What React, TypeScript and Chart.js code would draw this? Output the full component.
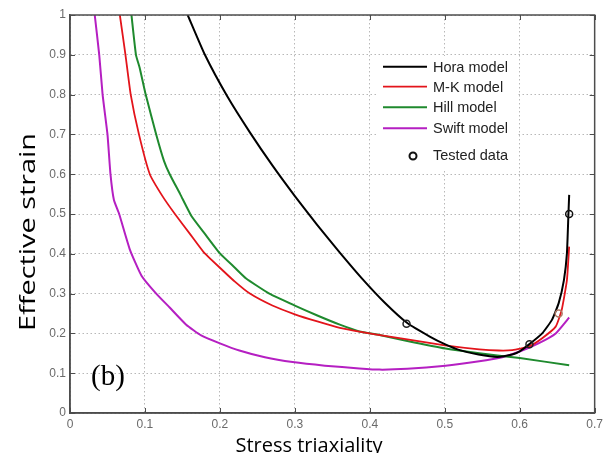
import { useEffect, useRef } from "react";
import { Chart, registerables } from "chart.js";

Chart.register(...registerables);

// Hora model
const horaX = [0.157, 0.18, 0.21, 0.24, 0.27, 0.3, 0.33, 0.36, 0.39, 0.42, 0.45, 0.48, 0.5, 0.52, 0.545, 0.57, 0.59, 0.6, 0.613, 0.63, 0.643, 0.652, 0.659, 0.663, 0.665, 0.666];
const horaY = [1.0, 0.9, 0.795, 0.705, 0.622, 0.545, 0.472, 0.403, 0.337, 0.277, 0.226, 0.192, 0.173, 0.158, 0.147, 0.141, 0.147, 0.155, 0.173, 0.2, 0.234, 0.276, 0.334, 0.401, 0.5, 0.548];

// M-K model
const mkX = [0.0665, 0.074, 0.081, 0.092, 0.1065, 0.124, 0.14, 0.16, 0.178, 0.2, 0.22, 0.24, 0.27, 0.3, 0.33, 0.36, 0.39, 0.42, 0.45, 0.5, 0.546, 0.572, 0.59, 0.612, 0.63, 0.648, 0.656, 0.663, 0.666];
const mkY = [1.0, 0.9, 0.8, 0.7, 0.6, 0.543, 0.5, 0.45, 0.405, 0.365, 0.33, 0.3, 0.27, 0.248, 0.23, 0.214, 0.203, 0.194, 0.185, 0.17, 0.16, 0.157, 0.158, 0.167, 0.188, 0.217, 0.259, 0.334, 0.418];

// Hill model
const hillX = [0.082, 0.088, 0.093, 0.101, 0.115, 0.1255, 0.133, 0.147, 0.162, 0.18, 0.2, 0.22, 0.235, 0.266, 0.3, 0.33, 0.36, 0.386, 0.413, 0.45, 0.501, 0.546, 0.6, 0.666];
const hillY = [1.0, 0.9, 0.867, 0.8, 0.7, 0.633, 0.6, 0.55, 0.495, 0.45, 0.401, 0.365, 0.338, 0.3, 0.27, 0.245, 0.222, 0.205, 0.196, 0.181, 0.162, 0.15, 0.138, 0.12];

// Swift model
const swiftX = [0.033, 0.039, 0.0435, 0.05, 0.054, 0.0586, 0.0656, 0.08, 0.0954, 0.115, 0.133, 0.155, 0.175, 0.2, 0.226, 0.26, 0.297, 0.34, 0.386, 0.413, 0.45, 0.501, 0.546, 0.572, 0.599, 0.625, 0.648, 0.666];
const swiftY = [1.0, 0.9, 0.8, 0.7, 0.6, 0.535, 0.5, 0.41, 0.345, 0.3, 0.265, 0.222, 0.195, 0.175, 0.157, 0.14, 0.128, 0.119, 0.112, 0.109, 0.111, 0.119, 0.13, 0.138, 0.154, 0.175, 0.2, 0.24];

// Tested data
const testedX = [0.449, 0.613, 0.652, 0.666];
const testedY = [0.224, 0.173, 0.25, 0.5];

const seriesNames = ["Hora model", "M-K model", "Hill model", "Swift model", "Tested data"];
const xTitle = "Stress triaxiality";
const yTitle = "Effective strain";
const panelTag = "(b)";

const FRAME = "#4d4d4d";
const TICK_TEXT = "#6a6a6a";

const toPoints = (xs: number[], ys: number[]) => xs.map((x, i) => ({ x, y: ys[i] }));
const tickText = (v: number | string) => String(+Number(v).toFixed(2));

const decorations = {
  id: "decorations",
  afterDraw(chart: any) {
    const { ctx, chartArea: a, scales } = chart;
    const xs = scales.x;
    const ys = scales.y;
    ctx.save();

    // closed frame around the plot
    ctx.strokeStyle = FRAME;
    ctx.lineWidth = 1.5;
    ctx.strokeRect(a.left, a.top, a.right - a.left, a.bottom - a.top);

    // inward tick marks on all four sides
    ctx.lineWidth = 1;
    ctx.beginPath();
    xs.ticks.forEach((t: any) => {
      const px = Math.round(xs.getPixelForValue(t.value)) + 0.5;
      ctx.moveTo(px, a.bottom);
      ctx.lineTo(px, a.bottom - 5);
      ctx.moveTo(px, a.top);
      ctx.lineTo(px, a.top + 5);
    });
    ys.ticks.forEach((t: any) => {
      const py = Math.round(ys.getPixelForValue(t.value)) + 0.5;
      ctx.moveTo(a.left, py);
      ctx.lineTo(a.left + 5, py);
      ctx.moveTo(a.right, py);
      ctx.lineTo(a.right - 5, py);
    });
    ctx.stroke();

    // legend
    const boxL = 377, boxT = 56, boxR = 518, boxB = 170;
    ctx.fillStyle = "#ffffff";
    ctx.fillRect(boxL, boxT, boxR - boxL, boxB - boxT);
    ctx.font = '14.5px "Liberation Sans", Arial, sans-serif';
    ctx.textBaseline = "middle";
    ctx.textAlign = "left";
    const rows = [66.7, 86.7, 107.3, 128.3, 155];
    chart.data.datasets.forEach((ds: any, i: number) => {
      const y = rows[i];
      if (ds.showLine) {
        ctx.strokeStyle = ds.borderColor;
        ctx.lineWidth = ds.borderWidth;
        ctx.beginPath();
        ctx.moveTo(383, y);
        ctx.lineTo(427, y);
        ctx.stroke();
      } else {
        ctx.strokeStyle = "#111";
        ctx.lineWidth = 2;
        ctx.beginPath();
        ctx.arc(413, y + 1, 3.5, 0, Math.PI * 2);
        ctx.stroke();
      }
      ctx.fillStyle = "#222";
      ctx.fillText(ds.label, 433, y + 1);
    });

    // axis titles
    ctx.fillStyle = "#000";
    ctx.font = '20px "Open Sans", sans-serif';
    ctx.textAlign = "center";
    ctx.textBaseline = "alphabetic";
    ctx.fillText(xTitle, 309, 452);

    // vertical title, stretched along its length to span the axis
    ctx.font = '22px "Open Sans", sans-serif';
    const natural = ctx.measureText(yTitle).width;
    const stretch = 198 / natural;
    ctx.save();
    ctx.translate(35, 232);
    ctx.rotate(-Math.PI / 2);
    ctx.scale(stretch, 1);
    ctx.fillText(yTitle, 0, 0);
    ctx.restore();

    // panel tag
    ctx.font = '29px "Liberation Serif", serif';
    ctx.textAlign = "left";
    ctx.fillText(panelTag, 91, 385);

    ctx.restore();
  },
};

export default function App() {
  const canvasRef = useRef<HTMLCanvasElement | null>(null);

  useEffect(() => {
    const canvas = canvasRef.current;
    if (!canvas) return;

    const lineDataset = (label: string, xs: number[], ys: number[], color: string, width: number, order: number) => ({
      label,
      data: toPoints(xs, ys),
      showLine: true,
      borderColor: color,
      backgroundColor: color,
      borderWidth: width,
      pointRadius: 0,
      tension: 0.15,
      order,
    });

    const chart = new Chart(canvas, {
      type: "scatter",
      data: {
        datasets: [
          lineDataset(seriesNames[0], horaX, horaY, "#000000", 2, 1),
          lineDataset(seriesNames[1], mkX, mkY, "#e3141b", 1.8, 2),
          lineDataset(seriesNames[2], hillX, hillY, "#1f8a2e", 2, 3),
          lineDataset(seriesNames[3], swiftX, swiftY, "#b51fc2", 2, 4),
          {
            label: seriesNames[4],
            data: toPoints(testedX, testedY),
            showLine: false,
            pointStyle: "circle",
            pointRadius: 3.5,
            pointBorderWidth: 1.5,
            pointBorderColor: ["#222", "#222", "#b07a66", "#111"],
            pointBackgroundColor: "rgba(255,255,255,0)",
            order: 0,
          } as any,
        ],
      },
      options: {
        responsive: false,
        animation: false,
        events: [],
        layout: { padding: { left: 0, top: 15, right: 11, bottom: 0 } },
        plugins: {
          legend: { display: false },
          tooltip: { enabled: false },
          title: { display: false },
        },
        scales: {
          x: {
            type: "linear",
            min: 0,
            max: 0.7,
            afterFit: (scale: any) => {
              scale.height = 40;
            },
            ticks: {
              stepSize: 0.1,
              autoSkip: false,
              maxRotation: 0,
              padding: 4,
              color: TICK_TEXT,
              font: { family: '"Liberation Sans", Arial, sans-serif', size: 12 },
              callback: (v: any) => tickText(v),
            },
            grid: {
              color: "#b8b8b8",
              lineWidth: 1,
              drawTicks: false,
            },
            border: { display: true, color: FRAME, width: 1.5, dash: [1.5, 2.5] },
          },
          y: {
            type: "linear",
            min: 0,
            max: 1,
            afterFit: (scale: any) => {
              scale.width = 70;
            },
            ticks: {
              stepSize: 0.1,
              autoSkip: false,
              padding: 4,
              color: TICK_TEXT,
              font: { family: '"Liberation Sans", Arial, sans-serif', size: 12 },
              callback: (v: any) => tickText(v),
            },
            grid: {
              color: "#b8b8b8",
              lineWidth: 1,
              drawTicks: false,
            },
            border: { display: true, color: FRAME, width: 1.5, dash: [1.5, 2.5] },
          },
        },
      },
      plugins: [decorations],
    });

    return () => chart.destroy();
  }, []);

  return (
    <div style={{ position: "fixed", left: 0, top: 0, width: 607, height: 453, background: "#ffffff" }}>
      <canvas ref={canvasRef} width={607} height={453} style={{ display: "block" }} />
    </div>
  );
}
